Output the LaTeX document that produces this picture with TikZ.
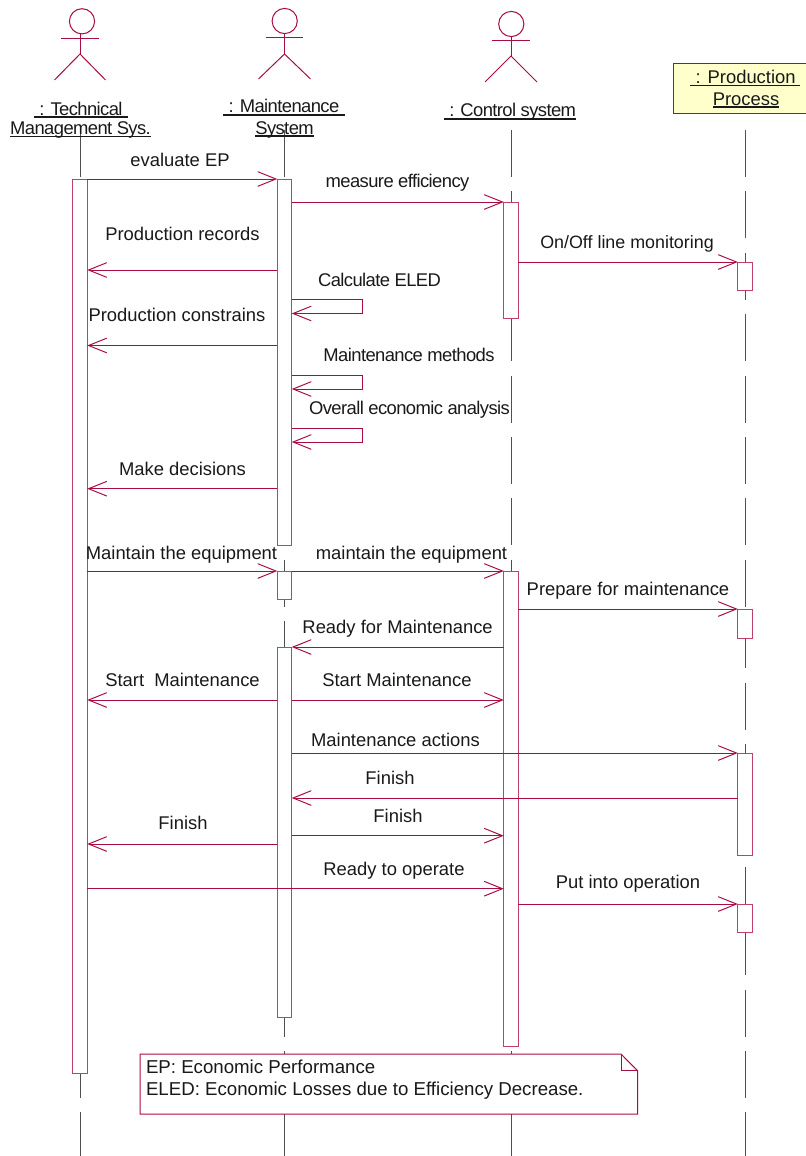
\documentclass[tikz,border=0pt]{standalone}
\usepackage{fontspec}
\setmainfont{Liberation Sans}
\newfontfamily\tightfam[LetterSpace=-3.2]{Liberation Sans}
\usetikzlibrary{arrows.meta}
\definecolor{rose}{HTML}{A80C44}
\definecolor{rosebox}{HTML}{C0406C}
\definecolor{lifegrey}{HTML}{505050}
\definecolor{notefill}{HTML}{FFFFCC}
\newcommand\ultxt[1]{\setbox0\hbox{#1}\rlap{\rule[-1.9pt]{\wd0}{1pt}}\box0}
\tikzset{
  lifeline/.style={draw=lifegrey,line width=.75pt,dash pattern=on 35.25pt off 10.8pt},
  figure/.style={draw=rose,line width=.75pt},
  actbox/.style={draw=rosebox,fill=white,line width=.75pt,minimum width=10.8pt,inner sep=0pt,outer sep=0pt,anchor=center},
  msg/.style={draw=rose,line width=.75pt,-{Straight Barb[length=13.7pt,width=11pt,line width=.75pt]}},
  lbl/.style={anchor=base,inner sep=0pt,outer sep=0pt,font=\tightfam\fontsize{13.8pt}{15pt}\selectfont,text=black!90},
  lblb/.style={lbl,font=\fontsize{13.8pt}{15pt}\selectfont},
  lblc/.style={lbl,font=\fontsize{13.4pt}{15pt}\selectfont},
  notelbl/.style={lbl,anchor=base west,font=\fontsize{14pt}{16pt}\selectfont},
  objbox/.style={draw=rose,fill=notefill,line width=.75pt}
}
\newcommand\actv[4]{\node[actbox,minimum height={(#4-#3)*0.75pt}] (#1) at (#2,{(#3+#4)/2}) {};}
\newcommand\actor[8]{% name, head x, head y, arm y, body x, hip y, foot y, half-span
  \draw[figure] (#2,#3) circle[radius=12.6];
  \draw[figure] (#5-18.7,#4) -- (#5+18.7,#4);
  \draw[figure] (#5,#3+12.6) -- (#5,#6);
  \draw[figure] (#5-#8,#7) -- (#5,#6) -- (#5+#8,#7);}
\begin{document}
\begin{tikzpicture}[x=0.75pt,y=-0.75pt]
\useasboundingbox (0,0) rectangle (806,1156);
% lifelines
\coordinate (t1) at (80,130);\coordinate (b1) at (80,1156);
\coordinate (t2) at (284,130);\coordinate (b2) at (284,1156);
\coordinate (t3) at (511,130);\coordinate (b3) at (511,1156);
\coordinate (t4) at (745,130);\coordinate (b4) at (745,1156);
\draw[lifeline] (t1) -- (b1);
\draw[lifeline] (t2) -- (b2);
\draw[lifeline] (t3) -- (b3);
\draw[lifeline] (t4) -- (b4);
% actors
\actor{a1}{82}{21.3}{38.5}{80}{54}{80}{25.5}
\actor{a2}{284.7}{21}{37.5}{284.5}{54}{79}{26}
\actor{a3}{511.3}{24}{41}{511}{56}{82}{26}
\path[objbox] (673.5,63.5) rectangle (806.5,113);
% activations
\actv{A}{80}{179}{1073}
\actv{Ba}{284.5}{179}{545}
\actv{Bb}{284.5}{571}{599}
\actv{Bc}{284.5}{647}{1017}
\actv{Ca}{511}{202}{318}
\actv{Cb}{511}{571}{1046}
\actv{Da}{745}{262}{290}
\actv{Db}{745}{609}{638}
\actv{Dc}{745}{753}{855}
\actv{Dd}{745}{904}{932}
% message levels
\coordinate (m1) at (0,179);
\coordinate (m2) at (0,202);
\coordinate (m3) at (0,262);
\coordinate (m4) at (0,270);
\coordinate (m5) at (0,345.5);
\coordinate (m6) at (0,488.7);
\coordinate (m7) at (0,571);
\coordinate (m8) at (0,609);
\coordinate (m9) at (0,647);
\coordinate (m10) at (0,700);
\coordinate (m11) at (0,753);
\coordinate (m12) at (0,798);
\coordinate (m13) at (0,835.7);
\coordinate (m14) at (0,844);
\coordinate (m15) at (0,888.7);
\coordinate (m16) at (0,904);
\coordinate (s1a) at (0,299.3);\coordinate (s1b) at (0,313.5);
\coordinate (s2a) at (0,375);\coordinate (s2b) at (0,389);
\coordinate (s3a) at (0,428);\coordinate (s3b) at (0,442);
\coordinate (sx) at (362,0);
% messages
\draw[msg] (A.east |- m1) -- (Ba.west |- m1);
\draw[msg] (Ba.east |- m2) -- (Ca.west |- m2);
\draw[msg] (Ca.east |- m3) -- (Da.west |- m3);
\draw[msg] (Ba.west |- m4) -- (A.east |- m4);
\draw[msg] (Ba.west |- m5) -- (A.east |- m5);
\draw[msg] (Ba.west |- m6) -- (A.east |- m6);
\draw[msg] (Ba.east |- s1a) -- (sx |- s1a) -- (sx |- s1b) -- (Ba.east |- s1b);
\draw[msg] (Ba.east |- s2a) -- (sx |- s2a) -- (sx |- s2b) -- (Ba.east |- s2b);
\draw[msg] (Ba.east |- s3a) -- (sx |- s3a) -- (sx |- s3b) -- (Ba.east |- s3b);
\draw[msg] (A.east |- m7) -- (Bb.west |- m7);
\draw[msg] (Bb.east |- m7) -- (Cb.west |- m7);
\draw[msg] (Cb.east |- m8) -- (Db.west |- m8);
\draw[msg] (Cb.west |- m9) -- (Bc.east |- m9);
\draw[msg] (Bc.west |- m10) -- (A.east |- m10);
\draw[msg] (Bc.east |- m10) -- (Cb.west |- m10);
\draw[msg] (Bc.east |- m11) -- (Dc.west |- m11);
\draw[msg] (Dc.west |- m12) -- (Bc.east |- m12);
\draw[msg] (Bc.east |- m13) -- (Cb.west |- m13);
\draw[msg] (Bc.west |- m14) -- (A.east |- m14);
\draw[msg] (A.east |- m15) -- (Cb.west |- m15);
\draw[msg] (Cb.east |- m16) -- (Dd.west |- m16);
% headers
\node[lbl] (h1a) at (81,115) {\ultxt{\kern4pt: Technical\kern4pt}};
\node[lbl] (h1b) at (80.5,134.5) {\ultxt{Management Sys.}};
\node[lbl] (h2a) at (284,113) {\ultxt{\kern4pt: Maintenance\kern4pt}};
\node[lbl] (h2b) at (284.5,134) {\ultxt{System}};
\node[lbl] (h3) at (510,117) {\ultxt{\kern4pt: Control system}};
\node[lblb] (h4a) at (745,83.5) {\ultxt{\kern4pt: Production\kern3pt}};
\node[lblb] (h4b) at (746,105) {\ultxt{Process}};
% message labels
\node[lblb] (l1) at (180,166) {evaluate EP};
\node[lbl] (l2) at (397.5,187) {measure efficiency};
\node[lblb] (l3) at (182.5,240) {Production records};
\node[lblc] (l4) at (627,248) {On/Off line monitoring};
\node[lbl] (l5) at (379.5,286) {Calculate ELED};
\node[lblb] (l6) at (177,321.7) {Production constrains};
\node[lbl] (l7) at (409,361.7) {Maintenance methods};
\node[lbl] (l8) at (409.5,414) {Overall economic analysis};
\node[lblb] (l9) at (182.5,475) {Make decisions};
\node[lblb] (l10) at (181.5,559) {Maintain the equipment};
\node[lblb] (l11) at (411.5,559) {maintain the equipment};
\node[lblb] (l12) at (628,595) {Prepare for maintenance};
\node[lblb] (l13) at (397.6,633) {Ready for Maintenance};
\node[lblb] (l14) at (182.5,686) {Start\ \ Maintenance};
\node[lblb] (l15) at (397,686) {Start Maintenance};
\node[lblb] (l16) at (395.5,746) {Maintenance actions};
\node[lblb] (l17) at (390,784) {Finish};
\node[lblb] (l18) at (183,829) {Finish};
\node[lblb] (l19) at (398,822) {Finish};
\node[lblb] (l20) at (394,875) {Ready to operate};
\node[lblb] (l21) at (628,888) {Put into operation};
% note
\draw[draw=rose,fill=white,line width=.75pt] (140,1054) -- (621,1054) -- (637.5,1070.7) -- (637.5,1114) -- (140,1114) -- cycle;
\draw[draw=rose,line width=.75pt] (621,1054) -- (621,1070.7) -- (637.5,1070.7);
\node[notelbl] (n1) at (146,1073) {EP: Economic Performance};
\node[notelbl] (n2) at (146,1095.5) {ELED: Economic Losses due to Efficiency Decrease.};
\end{tikzpicture}
\end{document}
